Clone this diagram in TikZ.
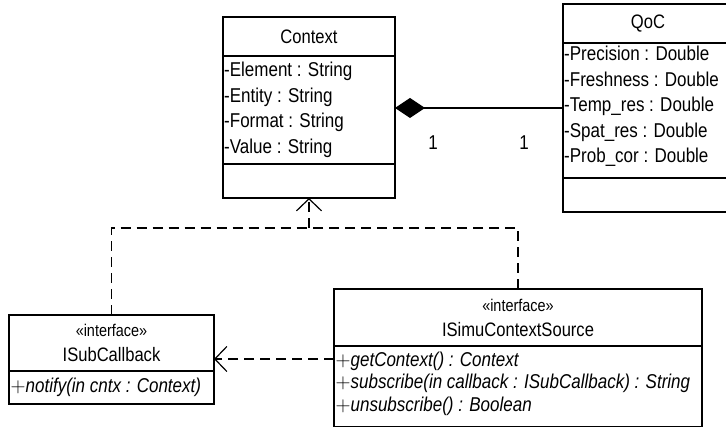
\documentclass[tikz,border=0pt]{standalone}
\usepackage{fontspec}
\setmainfont{Liberation Sans}[FakeStretch=0.85]
\usetikzlibrary{arrows.meta,positioning}
\newcommand{\stereotype}[1]{{\fontsize{17}{18}\selectfont «#1»}}

\begin{document}
\begin{tikzpicture}[
  x=1pt, y=-1pt,
  part/.style={draw, line width=1.6pt, inner sep=0pt, outer sep=0pt},
  hdr/.style={font=\fontsize{19.5}{25}\selectfont, align=center},
  attr/.style={font=\fontsize{20}{25.6}\selectfont, align=left, anchor=west, inner sep=1pt},
  op/.style={font=\fontsize{20}{22.5}\selectfont\itshape, align=left, anchor=west, inner sep=1.5pt},
  mult/.style={font=\fontsize{20}{22}\selectfont},
  dep/.style={line width=1.2pt, dash pattern=on 10pt off 6pt},
  realize/.style={-{Straight Barb[length=12pt, width=25pt, line width=1.2pt]}},
  compose/.style={line width=1.2pt, -{Diamond[length=30pt, width=20pt]}}
]
\useasboundingbox (0,0) rectangle (726,427);
\clip (0,0) rectangle (726,427);

% Context
\node[part, anchor=north west, minimum width=172, minimum height=39] (ctxhead) at (223,17) {};
\node[part, below=0pt of ctxhead, minimum width=172, minimum height=108] (ctxattr) {};
\node[part, below=0pt of ctxattr, minimum width=172, minimum height=34] (ctxops) {};
\node[hdr] (ctxname) at (ctxhead) {Context};
\node[attr] (ctxlist) at (ctxattr.west) {-Element : String\\-Entity : String\\-Format : String\\-Value : String};

% QoC
\node[part, anchor=north west, minimum width=170, minimum height=39] (qochead) at (563,4) {};
\node[part, below=0pt of qochead, minimum width=170, minimum height=135] (qocattr) {};
\node[part, below=0pt of qocattr, minimum width=170, minimum height=34] (qocops) {};
\node[hdr] (qocname) at (qochead) {QoC};
\node[attr] (qoclist) at ([yshift=4pt]qocattr.west) {-Precision : Double\\-Freshness : Double\\-Temp\_res : Double\\-Spat\_res : Double\\-Prob\_cor : Double};

% ISubCallback
\node[part, anchor=north west, minimum width=205, minimum height=56] (isubhead) at (9,315) {};
\node[part, below=0pt of isubhead, minimum width=205, minimum height=33] (isubops) {};
\node[hdr] (isubname) at (isubhead) {\stereotype{interface}\\ISubCallback};
\node[op] (isublist) at (isubops.west) {$+$notify(in cntx : Context)};

% ISimuContextSource
\node[part, anchor=north west, minimum width=368, minimum height=57] (isimuhead) at (334,289) {};
\node[part, below=0pt of isimuhead, minimum width=368, minimum height=81] (isimuops) {};
\node[part, below=0pt of isimuops, minimum width=368, minimum height=34] (isimuend) {};
\node[hdr] (isimuname) at (isimuhead) {\stereotype{interface}\\ISimuContextSource};
\node[op] (isimulist) at ([yshift=-37.5pt]isimuops.north west)
  {$+$getContext() : Context\\$+$subscribe(in callback : ISubCallback) : String\\$+$unsubscribe() : Boolean};

% composition
\coordinate (ctxdock) at ([yshift=2pt]ctxattr.east);
\draw[compose] (qocattr.west |- ctxdock) -- (ctxdock);
\node[mult] (multctx) at ([shift={(38,35)}]ctxdock) {1};
\node[mult] (multqoc) at ([shift={(-39,35)}]qocattr.west |- ctxdock) {1};

% realizations
\coordinate[below=30pt of ctxops.south] (bus);
\draw[dep] (isubhead.north) |- (bus);
\draw[dep] (isimuhead.north) |- (bus);
\draw[dep, realize] (bus) -- (ctxops.south);

% usage
\coordinate (usedock) at ([yshift=-13pt]isimuops.north west);
\draw[dep, realize] (usedock) -- (isubhead.east |- usedock);
\end{tikzpicture}
\end{document}
